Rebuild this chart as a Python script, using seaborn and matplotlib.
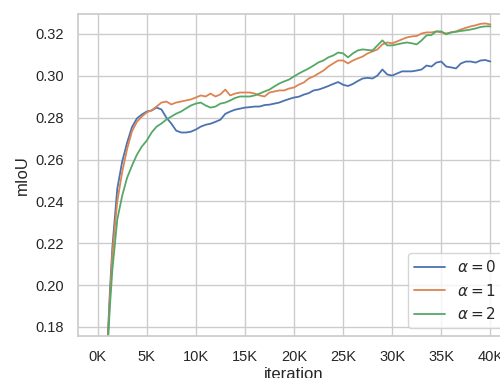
import numpy as np
import pandas as pd
from matplotlib import pyplot as plt
from matplotlib.ticker import FuncFormatter, MultipleLocator
import seaborn as sns

# iteration in thousands
iters_k = [0, 0.5, 1.0, 1.25, 1.5] + [2.0 + 0.5 * i for i in range(77)]

miou_a0 = [0.050, 0.130, 0.172, 0.197, 0.218,
           0.2460, 0.2590, 0.2680, 0.2755, 0.2796, 0.2815, 0.2829, 0.2834, 0.2848, 0.2839,
           0.2800, 0.2772, 0.2738, 0.2729, 0.2729, 0.2733, 0.2743, 0.2757, 0.2766, 0.2771,
           0.2780, 0.2790, 0.2818, 0.2829, 0.2838, 0.2843, 0.2848, 0.2850, 0.2853, 0.2853,
           0.2860, 0.2862, 0.2867, 0.2872, 0.2881, 0.2889, 0.2896, 0.2900, 0.2910, 0.2917,
           0.2930, 0.2934, 0.2942, 0.2951, 0.2961, 0.2970, 0.2957, 0.2951, 0.2961, 0.2975,
           0.2987, 0.2990, 0.2987, 0.3001, 0.3030, 0.3006, 0.3001, 0.3011, 0.3021, 0.3021,
           0.3021, 0.3025, 0.3030, 0.3049, 0.3044, 0.3063, 0.3068, 0.3044, 0.3040, 0.3035,
           0.3059, 0.3068, 0.3068, 0.3063, 0.3073, 0.3075, 0.3068]

miou_a1 = [0.050, 0.128, 0.170, 0.194, 0.215,
           0.2400, 0.2540, 0.2650, 0.2735, 0.2780, 0.2805, 0.2825, 0.2835, 0.2853, 0.2872,
           0.2877, 0.2863, 0.2872, 0.2877, 0.2882, 0.2887, 0.2896, 0.2906, 0.2901, 0.2915,
           0.2901, 0.2911, 0.2934, 0.2906, 0.2915, 0.2920, 0.2920, 0.2920, 0.2915, 0.2906,
           0.2901, 0.2920, 0.2925, 0.2930, 0.2930, 0.2939, 0.2944, 0.2958, 0.2968, 0.2987,
           0.2997, 0.3011, 0.3025, 0.3044, 0.3059, 0.3073, 0.3073, 0.3059, 0.3073, 0.3083,
           0.3092, 0.3107, 0.3116, 0.3126, 0.3150, 0.3159, 0.3155, 0.3164, 0.3174, 0.3183,
           0.3188, 0.3190, 0.3202, 0.3207, 0.3207, 0.3212, 0.3207, 0.3202, 0.3207, 0.3212,
           0.3221, 0.3229, 0.3236, 0.3241, 0.3248, 0.3250, 0.3245]

miou_a2 = [0.050, 0.126, 0.168, 0.190, 0.2073,
           0.2313, 0.2427, 0.2513, 0.2571, 0.2623, 0.2662, 0.2690, 0.2729, 0.2757, 0.2772,
           0.2791, 0.2805, 0.2819, 0.2829, 0.2844, 0.2858, 0.2867, 0.2872, 0.2858, 0.2848,
           0.2853, 0.2867, 0.2872, 0.2882, 0.2894, 0.2901, 0.2901, 0.2901, 0.2906, 0.2915,
           0.2925, 0.2934, 0.2949, 0.2963, 0.2973, 0.2982, 0.2997, 0.3011, 0.3023, 0.3035,
           0.3049, 0.3064, 0.3073, 0.3088, 0.3097, 0.3111, 0.3107, 0.3088, 0.3107, 0.3121,
           0.3126, 0.3123, 0.3121, 0.3145, 0.3169, 0.3145, 0.3145, 0.3150, 0.3155, 0.3159,
           0.3155, 0.3150, 0.3169, 0.3193, 0.3195, 0.3212, 0.3212, 0.3198, 0.3207, 0.3210,
           0.3214, 0.3217, 0.3221, 0.3226, 0.3233, 0.3236, 0.3236]

labels = [r'$\alpha=0$', r'$\alpha=1$', r'$\alpha=2$']

frames = []
for lab, vals in zip(labels, [miou_a0, miou_a1, miou_a2]):
    frames.append(pd.DataFrame({'iteration': np.array(iters_k) * 1000,
                                'mIoU': vals, 'alpha': lab}))
df = pd.concat(frames, ignore_index=True)

sns.set_theme(style='whitegrid', palette='deep')
plt.rcParams['font.family'] = ['Liberation Sans', 'DejaVu Sans']

fig = plt.figure(figsize=(5.0, 3.78), dpi=100)
ax = fig.add_axes([78 / 500, 42 / 378, 432 / 500, 322 / 378])

sns.lineplot(data=df, x='iteration', y='mIoU', hue='alpha', estimator=None,
             linewidth=1.3, ax=ax)

ax.set_xlim(-2000, 42000)
ax.set_ylim(0.1757, 0.3295)
ax.xaxis.set_major_locator(MultipleLocator(5000))
ax.xaxis.set_major_formatter(FuncFormatter(lambda v, p: f"{int(round(v / 1000))}K"))
ax.yaxis.set_major_locator(MultipleLocator(0.02))
ax.yaxis.set_major_formatter(FuncFormatter(lambda v, p: f"{v:.2f}"))
ax.tick_params(labelsize=10.5, pad=4)
ax.set_xlabel('iteration', fontsize=12, labelpad=2)
ax.set_ylabel('mIoU', fontsize=12)

sns.move_legend(ax, 'lower right', title=None, fontsize=11)

fig.savefig('out.png', dpi=100)
